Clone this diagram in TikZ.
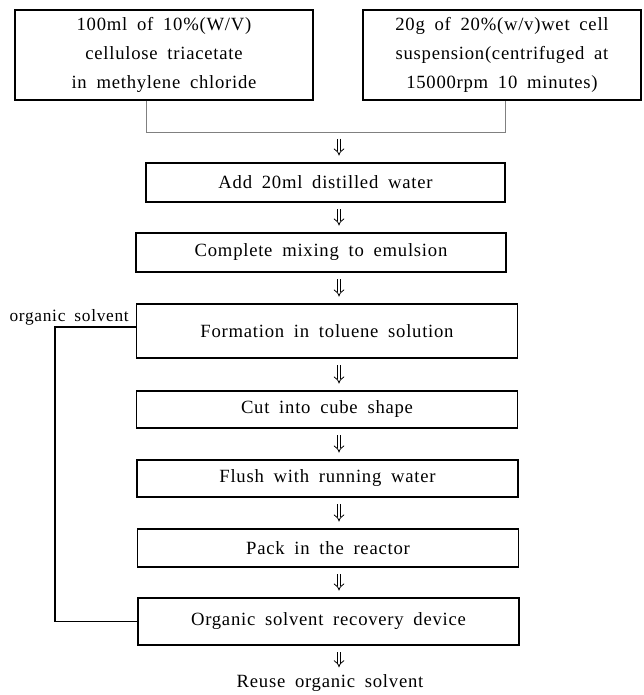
\documentclass[tikz,border=0pt]{standalone}
\usepackage{fontspec}
\setmainfont{Liberation Serif}[LetterSpace=4,WordSpace=1.8]
\usetikzlibrary{arrows.meta}
\begin{document}
\begin{tikzpicture}[x=0.75pt,y=-0.75pt,
  feedbox/.style={draw,line width=1.1pt,inner sep=0pt,align=center,minimum height=67.5pt,
    font=\fontsize{14}{21.5}\selectfont},
  stepbox/.style={draw,line width=1.1pt,inner sep=0pt,minimum width=286pt,
    font=\fontsize{14}{17}\selectfont},
  dflow/.style={double,double distance=2.2pt,line width=0.6pt,-{Implies},shorten <=5pt,shorten >=5pt},
  joinline/.style={line width=0.5pt,color=gray},
  backline/.style={line width=1.2pt}]
\useasboundingbox (0,0) rectangle (643,695);
\node[feedbox,minimum width=223.5pt] (cta) at (164,55) {100ml of 10\%(W/V)\\cellulose triacetate\\in methylene chloride};
\node[feedbox,minimum width=208.5pt] (cell) at (502,55) {20g of 20\%(w/v)wet cell\\suspension(centrifuged at\\15000rpm 10 minutes)};
\node[stepbox,minimum width=269.25pt,minimum height=29.25pt] (add) at (325.5,182.5) {Add 20ml distilled water};
\node[stepbox,minimum width=277.5pt,minimum height=29.25pt] (mix) at (321,252.5) {Complete mixing to emulsion};
\node[stepbox,minimum height=40.5pt] (form) at (327,331) {Formation in toluene solution};
\node[stepbox,minimum height=27.75pt] (cut) at (327,409.5) {Cut into cube shape};
\node[stepbox,minimum height=27.75pt] (flush) at (327.5,478.5) {Flush with running water};
\node[stepbox,minimum height=28.5pt] (pack) at (328,548) {Pack in the reactor};
\node[stepbox,minimum height=35.25pt] (recov) at (328.5,621.5) {Organic solvent recovery device};
\node[anchor=north,inner sep=0pt,font=\fontsize{14}{17}\selectfont] (reuse) at (330,674) {Reuse organic solvent};
\node[anchor=base east,inner sep=0pt,font=\fontsize{13}{15}\selectfont] (solv) at (129,321) {organic solvent};
\coordinate (ax) at (339,0);
\coordinate (jl) at (146,132);
\coordinate (jr) at (505,132);
\coordinate (rx) at (55,0);
\draw[joinline] (cta.south -| jl) -- (jl) -- (jr) -- (cell.south -| jr);
\draw[dflow] (jl -| ax) -- (add.north -| ax);
\draw[dflow] (add.south -| ax) -- (mix.north -| ax);
\draw[dflow] (mix.south -| ax) -- (form.north -| ax);
\draw[dflow] (form.south -| ax) -- (cut.north -| ax);
\draw[dflow] (cut.south -| ax) -- (flush.north -| ax);
\draw[dflow] (flush.south -| ax) -- (pack.north -| ax);
\draw[dflow] (pack.south -| ax) -- (recov.north -| ax);
\draw[dflow] (recov.south -| ax) -- (reuse.north -| ax);
\draw[backline] ([yshift=3pt]form.west) -- ([yshift=3pt]form.west -| rx) -- (recov.west -| rx) -- (recov.west);
\end{tikzpicture}
\end{document}
